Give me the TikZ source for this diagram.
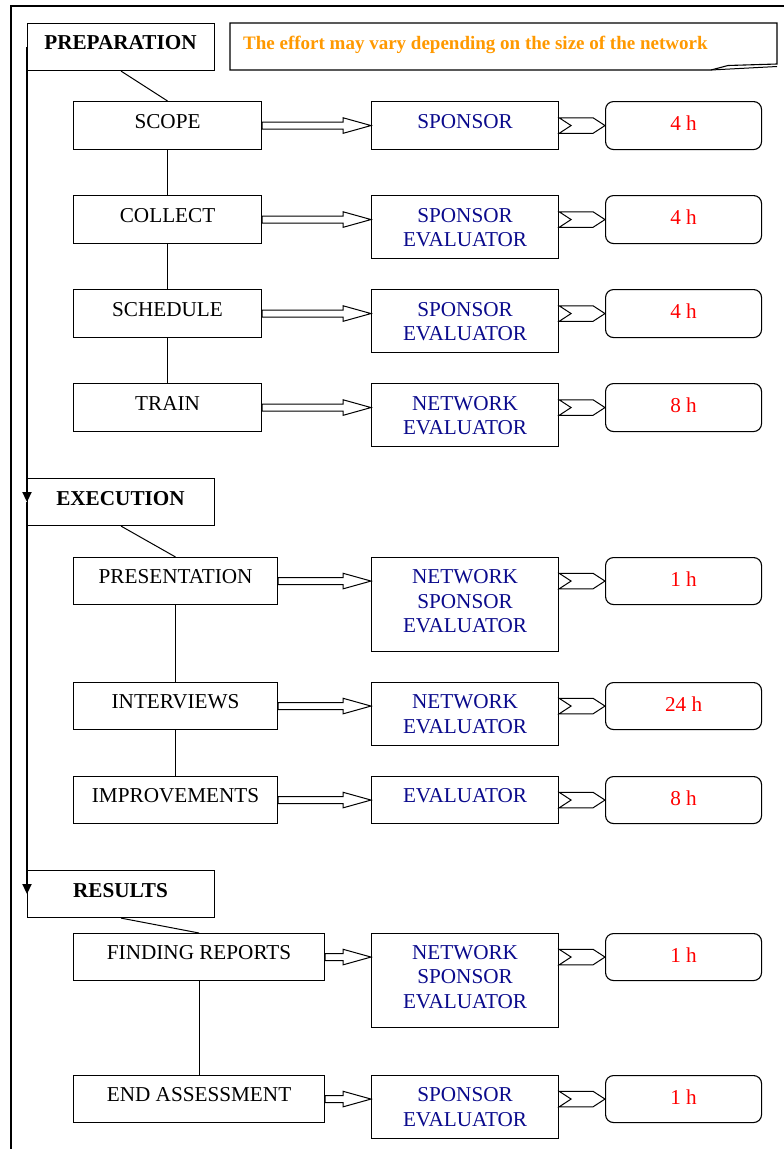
\documentclass[tikz,border=0pt]{standalone}
\usepackage{fontspec}
\setmainfont{Liberation Serif}
\usetikzlibrary{calc,arrows.meta}
\definecolor{rolecol}{RGB}{10,10,140}
\definecolor{hourcol}{RGB}{255,0,0}
\definecolor{notecol}{RGB}{255,153,0}
\newcommand{\mydbl}[2]{%
  \draw[line width=1pt,fill=white]
    ($(#1.east)+(0,-3.5)$) -- ($(#2.west|-#1.east)+(-28,-3.5)$) -- ($(#2.west|-#1.east)+(-28,-7.8)$)
    -- (#2.west|-#1.east) -- ($(#2.west|-#1.east)+(-28,7.8)$) -- ($(#2.west|-#1.east)+(-28,3.5)$)
    -- ($(#1.east)+(0,3.5)$) -- cycle;}
\newcommand{\mychev}[2]{%
  \draw[line width=1pt,fill=white]
    ($(#1.east|-#2.west)+(0,-7.8)$) -- ($(#2.west)+(-12,-7.8)$) -- (#2.west)
    -- ($(#2.west)+(-12,7.8)$) -- ($(#1.east|-#2.west)+(0,7.8)$) -- ($(#1.east|-#2.west)+(12,0)$) -- cycle;}
\begin{document}
\begin{tikzpicture}[x=1pt,y=-1pt,
  bx/.style={draw,line width=1.1pt,rectangle,anchor=north west,inner sep=0pt},
  hbx/.style={bx,rounded corners=8pt},
  txt/.style={inner sep=0pt,font=\fontsize{21.2}{24.5}\selectfont},
  phasetxt/.style={txt,font=\bfseries\fontsize{21.2}{24.5}\selectfont},
  roletxt/.style={txt,text=rolecol,align=center},
  hrstxt/.style={txt,text=hourcol},
  link/.style={line width=1pt},
  tl/.style={line width=1.8pt,-{Triangle[length=10pt,width=9pt]}}]
\useasboundingbox (0,0) rectangle (784,1149);
% frame
\draw[line width=2pt] (11,1152) -- (11,6) -- (787,6);

% phase boxes
\node[bx,minimum width=187pt,minimum height=47pt] (prep) at (27,23) {};
\node[phasetxt] (prep-t) at (120.5,43) {PREPARATION};
\node[bx,minimum width=187pt,minimum height=47pt] (exec) at (27,478) {};
\node[phasetxt] (exec-t) at (120.5,499) {EXECUTION};
\node[bx,minimum width=187pt,minimum height=47pt] (res) at (27,870) {};
\node[phasetxt] (res-t) at (120.5,891) {RESULTS};

% note
\coordinate (n1) at (230,23);
\coordinate (n2) at (777,23);
\coordinate (n3) at (777,64);
\coordinate (n4) at (728,65.5);
\coordinate (n5) at (711,70);
\coordinate (n6) at (230,70);
\draw[line width=1.1pt] (n1) -- (n2) -- (n3) -- (n4) -- (n5) -- (n6) -- cycle;
\draw[line width=1pt] (n5) -- (777,66.5);
\node[inner sep=0pt,anchor=base west,text=notecol,font=\bfseries\fontsize{19}{22}\selectfont] (note) at (243,49.5) {The effort may vary depending on the size of the network};

% timeline
\draw[tl] (prep.west) -- (exec.west);
\draw[tl] (exec.west) -- (res.west);

% tasks
\node[bx,minimum width=188pt,minimum height=48pt] (scope) at (73,101) {};
\node[bx,minimum width=188pt,minimum height=48pt] (collect) at (73,195) {};
\node[bx,minimum width=188pt,minimum height=48pt] (sched) at (73,289) {};
\node[bx,minimum width=188pt,minimum height=48pt] (train) at (73,383) {};
\node[bx,minimum width=204pt,minimum height=47pt] (pres) at (73,557) {};
\node[bx,minimum width=204pt,minimum height=47pt] (inter) at (73,682) {};
\node[bx,minimum width=204pt,minimum height=47pt] (impr) at (73,776) {};
\node[bx,minimum width=251pt,minimum height=47pt] (find) at (73,933) {};
\node[bx,minimum width=251pt,minimum height=47pt] (endas) at (73,1075) {};
\node[txt] (scope-t) at ($(scope.north)+(0,20.5)$) {SCOPE};
\node[txt] (collect-t) at ($(collect.north)+(0,20.5)$) {COLLECT};
\node[txt] (sched-t) at ($(sched.north)+(0,20.5)$) {SCHEDULE};
\node[txt] (train-t) at ($(train.north)+(0,20.5)$) {TRAIN};
\node[txt] (pres-t) at ($(pres.north)+(0,20)$) {PRESENTATION};
\node[txt] (inter-t) at ($(inter.north)+(0,20)$) {INTERVIEWS};
\node[txt] (impr-t) at ($(impr.north)+(0,20)$) {IMPROVEMENTS};
\node[txt] (find-t) at ($(find.north)+(0,20)$) {FINDING REPORTS};
\node[txt] (endas-t) at ($(endas.north)+(0,20)$) {END ASSESSMENT};

% roles
\node[bx,minimum width=187pt,minimum height=48pt] (r1) at (371,101) {};
\node[bx,minimum width=187pt,minimum height=63pt] (r2) at (371,195) {};
\node[bx,minimum width=187pt,minimum height=63pt] (r3) at (371,289) {};
\node[bx,minimum width=187pt,minimum height=63pt] (r4) at (371,383) {};
\node[bx,minimum width=187pt,minimum height=94pt] (r5) at (371,557) {};
\node[bx,minimum width=187pt,minimum height=63pt] (r6) at (371,682) {};
\node[bx,minimum width=187pt,minimum height=47pt] (r7) at (371,776) {};
\node[bx,minimum width=187pt,minimum height=94pt] (r8) at (371,933) {};
\node[bx,minimum width=187pt,minimum height=63pt] (r9) at (371,1075) {};
\node[roletxt] (r1-t) at ($(r1.north)+(0,20.5)$) {SPONSOR};
\node[roletxt] (r2-t) at ($(r2.north)+(0,32.5)$) {SPONSOR\\EVALUATOR};
\node[roletxt] (r3-t) at ($(r3.north)+(0,32.5)$) {SPONSOR\\EVALUATOR};
\node[roletxt] (r4-t) at ($(r4.north)+(0,32.5)$) {NETWORK\\EVALUATOR};
\node[roletxt] (r5-t) at ($(r5.north)+(0,44.5)$) {NETWORK\\SPONSOR\\EVALUATOR};
\node[roletxt] (r6-t) at ($(r6.north)+(0,32)$) {NETWORK\\EVALUATOR};
\node[roletxt] (r7-t) at ($(r7.north)+(0,20)$) {EVALUATOR};
\node[roletxt] (r8-t) at ($(r8.north)+(0,44)$) {NETWORK\\SPONSOR\\EVALUATOR};
\node[roletxt] (r9-t) at ($(r9.north)+(0,32)$) {SPONSOR\\EVALUATOR};

% hours
\node[hbx,minimum width=156pt,minimum height=48pt] (h1) at (605,101) {};
\node[hbx,minimum width=156pt,minimum height=48pt] (h2) at (605,195) {};
\node[hbx,minimum width=156pt,minimum height=48pt] (h3) at (605,289) {};
\node[hbx,minimum width=156pt,minimum height=48pt] (h4) at (605,383) {};
\node[hbx,minimum width=156pt,minimum height=47pt] (h5) at (605,557) {};
\node[hbx,minimum width=156pt,minimum height=47pt] (h6) at (605,682) {};
\node[hbx,minimum width=156pt,minimum height=47pt] (h7) at (605,776) {};
\node[hbx,minimum width=156pt,minimum height=47pt] (h8) at (605,933) {};
\node[hbx,minimum width=156pt,minimum height=47pt] (h9) at (605,1075) {};
\node[hrstxt] (h1-t) at ($(h1.north)+(0,22)$) {4 h};
\node[hrstxt] (h2-t) at ($(h2.north)+(0,22)$) {4 h};
\node[hrstxt] (h3-t) at ($(h3.north)+(0,22)$) {4 h};
\node[hrstxt] (h4-t) at ($(h4.north)+(0,22)$) {8 h};
\node[hrstxt] (h5-t) at ($(h5.north)+(0,22)$) {1 h};
\node[hrstxt] (h6-t) at ($(h6.north)+(0,22)$) {24 h};
\node[hrstxt] (h7-t) at ($(h7.north)+(0,22)$) {8 h};
\node[hrstxt] (h8-t) at ($(h8.north)+(0,22)$) {1 h};
\node[hrstxt] (h9-t) at ($(h9.north)+(0,22)$) {1 h};

% links
\draw[link] (prep.south) -- (scope.north);
\draw[link] (scope.south) -- (collect.north);
\draw[link] (collect.south) -- (sched.north);
\draw[link] (sched.south) -- (train.north);
\draw[link] (exec.south) -- (pres.north);
\draw[link] (pres.south) -- (inter.north);
\draw[link] (inter.south) -- (impr.north);
\draw[link] (res.south) -- (find.north);
\draw[link] (find.south) -- (endas.north);

% arrows
\mydbl{scope}{r1} \mydbl{collect}{r2} \mydbl{sched}{r3} \mydbl{train}{r4}
\mydbl{pres}{r5} \mydbl{inter}{r6} \mydbl{impr}{r7} \mydbl{find}{r8} \mydbl{endas}{r9}
\mychev{r1}{h1} \mychev{r2}{h2} \mychev{r3}{h3} \mychev{r4}{h4}
\mychev{r5}{h5} \mychev{r6}{h6} \mychev{r7}{h7} \mychev{r8}{h8} \mychev{r9}{h9}
\end{tikzpicture}
\end{document}
